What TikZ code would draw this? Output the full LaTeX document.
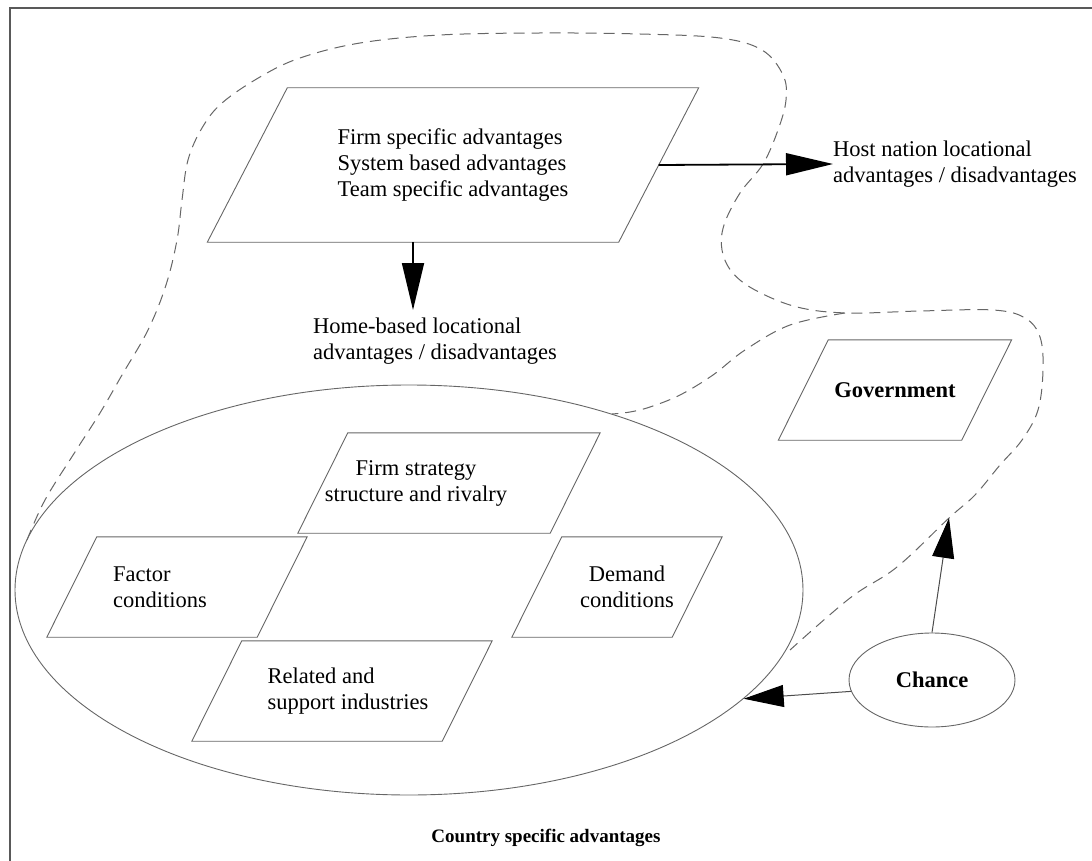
\documentclass[tikz,border=0pt]{standalone}
\usepackage{fontspec}
\setmainfont{Liberation Serif}
\usetikzlibrary{arrows.meta,positioning,shapes.geometric,calc}
\definecolor{edgegray}{gray}{0.40}
% outline of a slanted box round a node: [half slant]{shift of outline}{node}
\newcommand{\paraedge}[3][25pt]{%
  \draw[paraline] ([xshift={#2+#1}]#3.north west) -- ([xshift={#2+#1}]#3.north east)
    -- ([xshift={#2-#1}]#3.south east) -- ([xshift={#2-#1}]#3.south west) -- cycle;}

\begin{document}
\begin{tikzpicture}[x=1pt, y=-1pt,
  every node/.style={font=\fontsize{22.5}{26}\selectfont},
  boldtext/.style={font=\fontsize{22.5}{26}\selectfont\bfseries},
  para/.style={minimum width=#1, minimum height=100pt, inner sep=0pt},
  paraline/.style={draw=edgegray, line width=0.9pt},
  boundary/.style={draw=edgegray, line width=1pt, dash pattern=on 11pt off 7pt},
  arr/.style={-{Triangle[length=#1, width=22pt, color=black]}},
  arr/.default=47pt,
  heavy/.style={draw=black, line width=1.8pt},
  light/.style={draw=black!70, line width=1pt},
  lbl/.style={inner sep=0pt, align=left},
]
\useasboundingbox (0,0) rectangle (1092,861);
% frame
\draw[black!65, line width=1.6pt] (10,861) -- (10,8) -- (1092,8);

% dashed boundary
\draw[boundary] plot[smooth, tension=0.6] coordinates {(27,540) (45,500) (75,452) (100,413) (122,375) (148,330) (166,285) (177,240) (182,200) (188,160) (202,128) (222,103) (260,77) (300,58) (360,43) (440,35) (540,33) (640,34) (720,38) (762,50) (783,75) (786,100) (778,130) (763,164) (740,193) (724,225) (722,250) (732,272) (755,290) (797,307) (847,313) (920,311) (993,310) (1025,318) (1040,337) (1043,370) (1038,410) (1022,440) (1000,465) (975,495) (949,518) (897,567) (850,598) (790,650)};
\draw[boundary] plot[smooth, tension=0.6] coordinates {(845,313) (790,325) (745,350) (713,375) (680,395) (650,407) (630,412) (612,414)};

% firm level
\node[para=411pt, minimum height=154pt, align=left] (fsa) at (453,165) {Firm specific advantages\\System based advantages\\Team specific advantages};
\paraedge[40pt]{0pt}{fsa}
\node[lbl, anchor=west] (host) at (833,164) {Host nation locational\\advantages / disadvantages};
\node[lbl, anchor=north west] (home) at (313,318) {Home-based locational\\advantages / disadvantages};

% country level diamond
\node[ellipse, draw=edgegray, line width=0.9pt, minimum width=788pt, minimum height=410pt, inner sep=0pt] (csa) at (409,590) {};
\node[para=252pt, align=center] (strategy) at (416,483) {Firm strategy\\structure and rivalry};
\paraedge{33pt}{strategy}
\node[para=210pt, align=left] (factor) at (160,587) {Factor\\conditions};
\paraedge{17pt}{factor}
\node[para=160pt, align=center] (demand) at (627,587) {Demand\\conditions};
\paraedge{-10pt}{demand}
\node[para=250pt, align=left] (related) at (348,691) {Related and\\support industries};
\paraedge{-6pt}{related}

% government and chance
\node[para=183pt, boldtext] (gov) at (895,390) {Government};
\paraedge{0pt}{gov}
\node[ellipse, draw=edgegray, line width=0.9pt, minimum width=166pt, minimum height=94pt, inner sep=0pt, boldtext] (chance) at (932,680) {Chance};
\coordinate (gtip) at (949,518);

\node[font=\fontsize{19}{22}\selectfont\bfseries] (title) at (546,838) {Country specific advantages};

% arrows
\draw[heavy, arr] ([xshift=-40pt]fsa.south) -- ([xshift=-40pt, yshift=8pt]fsa.south |- home.north);
\draw[heavy, arr] (fsa.east) -- (host.west);
\draw[light, arr=40pt] (chance.188) -- (csa.-18);
\draw[light, arr=40pt] (chance.north) -- (gtip);
\end{tikzpicture}
\end{document}
